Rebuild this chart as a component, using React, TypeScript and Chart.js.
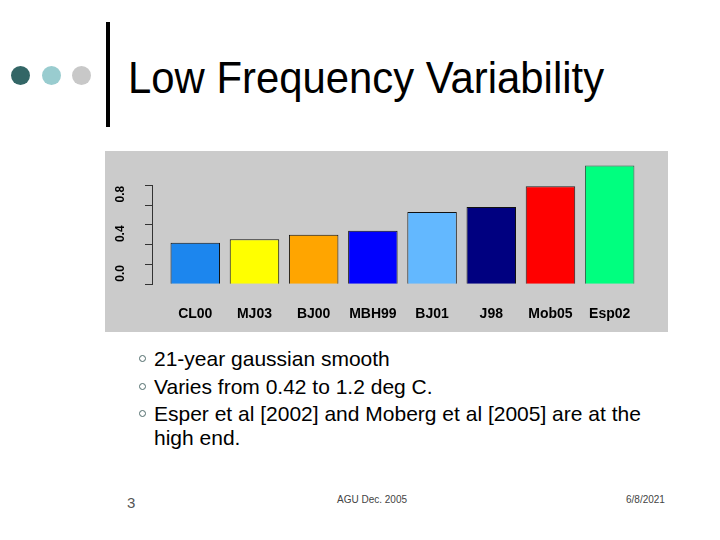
import React, { useEffect, useRef } from "react";
import { Chart, registerables } from "chart.js";

Chart.register(...registerables);

const categories = ["CL00", "MJ03", "BJ00", "MBH99", "BJ01", "J98", "Mob05", "Esp02"];
const values = [0.42, 0.455, 0.5, 0.54, 0.73, 0.78, 0.99, 1.2];
const barColors = ["#1C86EE", "#FFFF00", "#FFA500", "#0000FF", "#63B8FF", "#000080", "#FF0000", "#00FF7F"];
const barBorders = ["#111111", "#111111", "#111111", "#111111", "#111111", "#111111", "#222222", "#2B5E45"];
const yTickValues = [0, 0.2, 0.4, 0.6, 0.8, 1.0];
const yTickLabels = ["0.0", "", "0.4", "", "0.8", ""];
const bullets = [
  "21-year gaussian smooth",
  "Varies from 0.42 to 1.2 deg C.",
  "Esper et al [2002] and Moberg et al [2005] are at the",
];
const bulletWrap = "high end.";

const FONT = "'Liberation Sans', Arial, Helvetica, sans-serif";

const axisLinePlugin = {
  id: "axisLine",
  afterDraw(chart: any) {
    const y = chart.scales.y;
    const ctx = chart.ctx;
    const x = Math.round(chart.chartArea.left) - 0.5;
    ctx.save();
    ctx.strokeStyle = "#333333";
    ctx.lineWidth = 1;
    ctx.beginPath();
    ctx.moveTo(x, y.getPixelForValue(yTickValues[0]));
    ctx.lineTo(x, y.getPixelForValue(yTickValues[yTickValues.length - 1]));
    ctx.stroke();
    ctx.restore();
  },
};

const zeroPad = (s: any) => {
  s.paddingLeft = 0;
  s.paddingRight = 0;
  s.paddingTop = 0;
  s.paddingBottom = 0;
};

function BarChart() {
  const ref = useRef<HTMLCanvasElement | null>(null);
  useEffect(() => {
    if (!ref.current) return;
    const chart = new Chart(ref.current, {
      type: "bar",
      data: {
        datasets: [
          {
            data: values.map((v, i) => ({ x: i, y: v })),
            backgroundColor: barColors,
            borderColor: barBorders,
            borderWidth: 1,
            barPercentage: 0.836,
            categoryPercentage: 1,
          },
        ],
      },
      options: {
        animation: false,
        responsive: false,
        events: [],
        layout: { padding: { left: 0, right: 14.4, top: 9.7, bottom: 0 } },
        plugins: { legend: { display: false }, tooltip: { enabled: false } },
        scales: {
          x: {
            type: "linear",
            offset: false,
            min: -0.714,
            max: 7.742,
            grid: { display: false, drawTicks: false, offset: false },
            border: { display: false },
            afterBuildTicks: (s: any) => {
              s.ticks = categories.map((_, i) => ({ value: i }));
            },
            afterFit: (s: any) => {
              s.height = 42.9;
              zeroPad(s);
            },
            ticks: {
              autoSkip: false,
              maxRotation: 0,
              padding: 17,
              color: "#000000",
              font: { family: FONT, size: 14, weight: "bold" },
              callback: (_v: any, i: number) => categories[i],
            },
          },
          y: {
            min: -0.048,
            max: 1.248,
            border: { display: false },
            grid: { drawOnChartArea: false, drawTicks: true, tickLength: 8, color: "#333333" },
            afterBuildTicks: (s: any) => {
              s.ticks = yTickValues.map((v) => ({ value: v }));
            },
            afterFit: (s: any) => {
              s.width = 48;
              zeroPad(s);
            },
            ticks: {
              autoSkip: false,
              minRotation: 90,
              maxRotation: 90,
              crossAlign: "center",
              padding: 16,
              labelOffset: -11,
              color: "#000000",
              font: { family: FONT, size: 12, weight: "bold" },
              callback: (_v: any, i: number) => yTickLabels[i],
            },
          },
        },
      } as any,
      plugins: [axisLinePlugin],
    });
    return () => chart.destroy();
  }, []);
  return <canvas ref={ref} width={563} height={181} style={{ display: "block" }} />;
}

export default function App() {
  const bulletTops = [347.7, 375.7, 402.7];
  return (
    <div
      style={{
        position: "absolute",
        left: 0,
        top: 0,
        width: 720,
        height: 540,
        background: "#FFFFFF",
        fontFamily: FONT,
        overflow: "hidden",
      }}
    >
      {[
        { x: 20.7, c: "#336666" },
        { x: 51.7, c: "#99CCCF" },
        { x: 81.7, c: "#C8C8C8" },
      ].map((d, i) => (
        <div
          key={i}
          style={{
            position: "absolute",
            left: d.x - 9.5,
            top: 75 - 9.5,
            width: 19,
            height: 19,
            borderRadius: "50%",
            background: d.c,
          }}
        />
      ))}
      <div style={{ position: "absolute", left: 106, top: 22, width: 4, height: 105, background: "#000" }} />
      <div
        style={{
          position: "absolute",
          left: 128,
          top: 55,
          fontSize: 45,
          lineHeight: "45px",
          color: "#000",
          whiteSpace: "nowrap",
          transform: "scaleX(0.93)",
          transformOrigin: "left top",
        }}
      >
        Low Frequency Variability
      </div>
      <div style={{ position: "absolute", left: 105, top: 151, width: 563, height: 181, background: "#CBCBCB" }}>
        <BarChart />
      </div>
      {bullets.map((t, i) => (
        <React.Fragment key={i}>
          <div
            style={{
              position: "absolute",
              left: 138.5,
              top: bulletTops[i] + 7,
              width: 5,
              height: 5,
              borderRadius: "50%",
              border: "1.5px solid #4F6B6B",
            }}
          />
          <div
            style={{
              position: "absolute",
              left: 154,
              top: bulletTops[i],
              fontSize: 21,
              lineHeight: "21px",
              color: "#000",
              whiteSpace: "nowrap",
            }}
          >
            {t}
          </div>
        </React.Fragment>
      ))}
      <div
        style={{ position: "absolute", left: 154, top: 426.7, fontSize: 21, lineHeight: "21px", color: "#000", whiteSpace: "nowrap" }}
      >
        {bulletWrap}
      </div>
      <div style={{ position: "absolute", left: 127, top: 495, fontSize: 15, lineHeight: "15px", color: "#555" }}>3</div>
      <div style={{ position: "absolute", left: 337, top: 494, fontSize: 10, lineHeight: "12px", color: "#444", whiteSpace: "nowrap" }}>
        AGU Dec. 2005
      </div>
      <div style={{ position: "absolute", left: 626, top: 494, fontSize: 10, lineHeight: "12px", color: "#444", whiteSpace: "nowrap" }}>
        6/8/2021
      </div>
    </div>
  );
}
